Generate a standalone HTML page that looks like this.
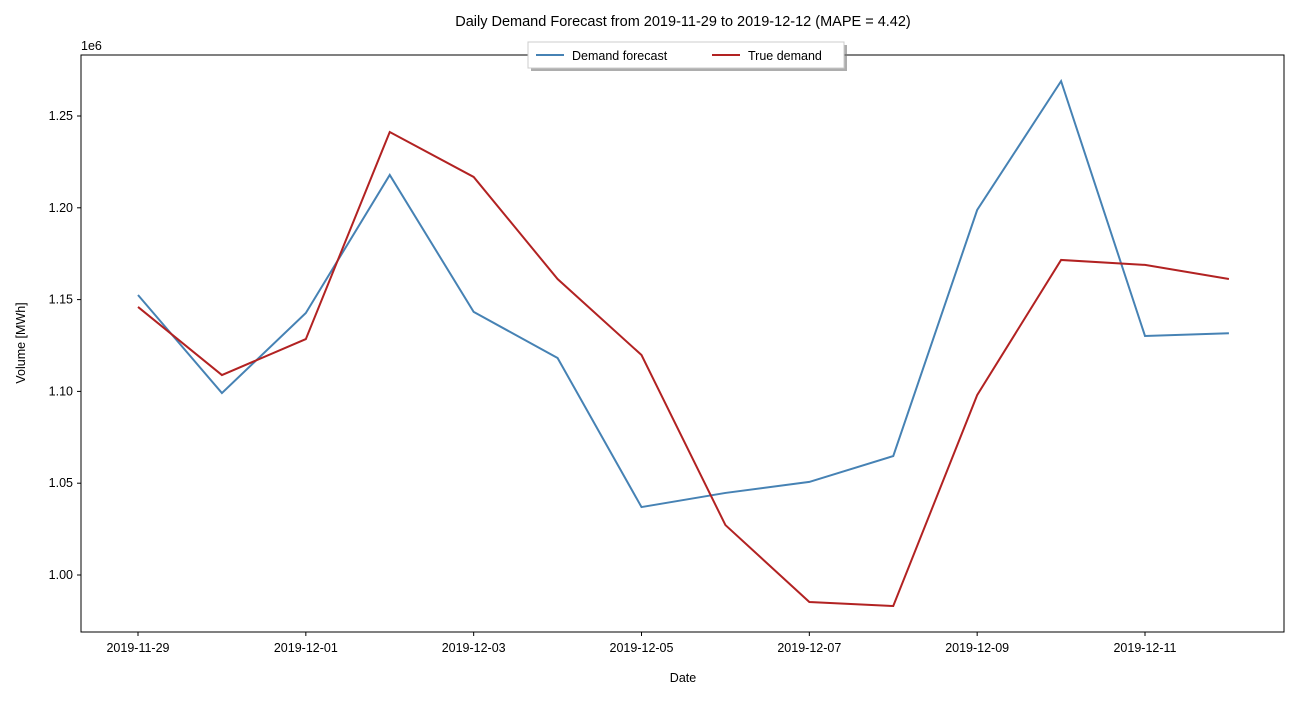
<!DOCTYPE html>
<html><head><meta charset="utf-8"><style>
body{margin:0;background:#fff;font-family:"Liberation Sans","DejaVu Sans",sans-serif;}
svg text{font-family:"Liberation Sans","DejaVu Sans",sans-serif;font-size:12.5px;fill:#000;}
</style></head><body>
<svg id="chart" width="1300" height="700" xmlns="http://www.w3.org/2000/svg">
<rect width="1300" height="700" fill="#fff"/>
<text x="683" y="26" text-anchor="middle" style="font-size:14.5px">Daily Demand Forecast from 2019-11-29 to 2019-12-12 (MAPE = 4.42)</text>
<g id="axes"></g>
<g id="series"></g>
<rect x="81" y="55" width="1203" height="577" fill="none" stroke="#000" stroke-width="1"/>
<text x="81" y="50">1e6</text>
<text x="683" y="682" text-anchor="middle">Date</text>
<text x="25" y="343" text-anchor="middle" transform="rotate(-90 25 343)">Volume [MWh]</text>
<g>
<rect x="531" y="45" width="316" height="26" fill="#777" opacity="0.6"/>
<rect x="528" y="42" width="316" height="26" fill="#fff" stroke="#ccc"/>
<line x1="536" y1="55" x2="564" y2="55" stroke="#4682b4" stroke-width="2"/>
<text x="572" y="60">Demand forecast</text>
<line x1="712" y1="55" x2="740" y2="55" stroke="#b22222" stroke-width="2"/>
<text x="748" y="60">True demand</text>
</g>
</svg>
<script>
const dates=["2019-11-29","2019-11-30","2019-12-01","2019-12-02","2019-12-03","2019-12-04","2019-12-05","2019-12-06","2019-12-07","2019-12-08","2019-12-09","2019-12-10","2019-12-11","2019-12-12"];
const forecast=[1.1525,1.0991,1.1427,1.2179,1.1433,1.1182,1.0370,1.0447,1.0507,1.0648,1.1988,1.2690,1.1302,1.1317];
const trueDemand=[1.1460,1.1089,1.1285,1.2413,1.2168,1.1612,1.1198,1.0272,0.9853,0.9831,1.0980,1.1716,1.1689,1.1612];
const yTicks=[1.00,1.05,1.10,1.15,1.20,1.25];
const xTickIdx=[0,2,4,6,8,10,12];
const NS="http://www.w3.org/2000/svg";
function xS(i){return 138+i*(1145-138)/12;}
function yS(v){return 575-(v-1.0)*(575-116)/0.25;}
const axes=document.getElementById('axes');
function mk(t,a,p){const e=document.createElementNS(NS,t);for(const k in a)e.setAttribute(k,a[k]);p.appendChild(e);return e;}
yTicks.forEach(v=>{
  const y=yS(v);
  const tk=mk('line',{x1:77,x2:81,y1:y,y2:y,stroke:'#000'},axes);
  
  
  const t=mk('text',{x:73,y:y+4,'text-anchor':'end'},axes);t.textContent=v.toFixed(2);
  
  
});
xTickIdx.forEach(i=>{
  const x=xS(i);
  const tk=mk('line',{x1:x,x2:x,y1:632,y2:636,stroke:'#000'},axes);
  
  
  const t=mk('text',{x:x,y:652,'text-anchor':'middle'},axes);t.textContent=dates[i];
  
  
});
const sg=document.getElementById('series');
function line(vals,color,name){
  const p=mk('polyline',{points:vals.map((v,i)=>xS(i)+','+yS(v)).join(' '),fill:'none',stroke:color,'stroke-width':2},sg);
  
  
}
line(forecast,'#4682b4','forecast-line');
line(trueDemand,'#b22222','true-demand-line');
</script>
</body></html>
